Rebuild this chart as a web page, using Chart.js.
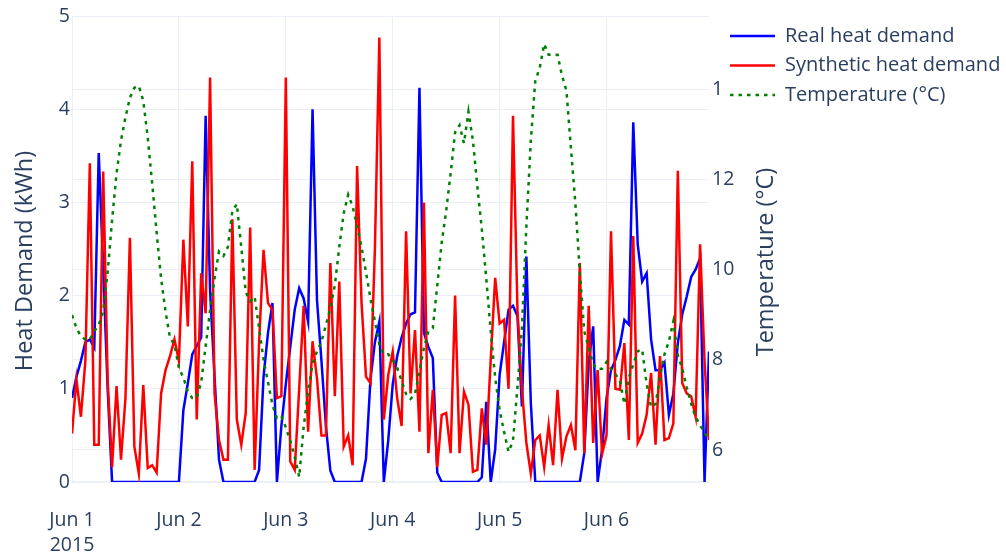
<!DOCTYPE html>
<html>
<head>
<meta charset="utf-8">
<script src="https://cdn.jsdelivr.net/npm/chart.js@4.4.1/dist/chart.umd.min.js"></script>
<style>
  html, body { margin: 0; padding: 0; background: #fff; }
</style>
</head>
<body>
<canvas id="heatChart" width="1006" height="555"></canvas>
<script>
const dayLabels = ['Jun 1', 'Jun 2', 'Jun 3', 'Jun 4', 'Jun 5', 'Jun 6'];
const yearLabel = '2015';
const demandTicks = [0, 1, 2, 3, 4, 5];
const tempTicks = [6, 8, 10, 12, 14];

// hourly values, Jun 1 00:00 -> Jun 6 23:00
const realDemand = [
  0.9, 1.13, 1.3, 1.5, 1.53, 1.44, 3.53, 2.3, 1.0, 0, 0, 0,
  0, 0, 0, 0, 0, 0, 0, 0, 0, 0, 0, 0,
  0, 0.77, 1.06, 1.37, 1.46, 1.55, 3.93, 2.05, 1.13, 0.24, 0, 0,
  0, 0, 0, 0, 0, 0, 0.13, 1.13, 1.6, 1.92, 0, 0.6,
  1.05, 1.45, 1.85, 2.08, 1.97, 1.72, 4.0, 1.95, 1.3, 0.6, 0.12, 0,
  0, 0, 0, 0, 0, 0, 0.25, 1.1, 1.5, 1.72, 0, 0.45,
  1.05, 1.35, 1.55, 1.7, 1.8, 1.82, 4.23, 1.6, 1.45, 1.33, 0.1, 0,
  0, 0, 0, 0, 0, 0, 0, 0, 0.05, 0.86, 0, 0.35,
  1.15, 1.5, 1.85, 1.89, 1.78, 0.81, 2.42, 0.85, 0, 0, 0, 0,
  0, 0, 0, 0, 0, 0, 0, 0.31, 1.28, 1.67, 0, 0.35,
  0.9, 1.2, 1.31, 1.46, 1.74, 1.69, 3.86, 2.55, 2.15, 2.24, 1.53, 1.2,
  1.2, 1.28, 0.72, 0.95, 1.49, 1.8, 1.99, 2.2, 2.28, 2.4, 0, 1.4
];
const syntheticDemand = [
  0.52, 1.1, 0.7, 1.3, 3.42, 0.4, 0.4, 3.33, 1.1, 0.16, 1.03, 0.24,
  0.9, 2.62, 0.38, 0.09, 1.04, 0.15, 0.18, 0.1, 0.95, 1.2, 1.35, 1.53,
  1.3, 2.6, 1.67, 3.44, 0.67, 2.24, 1.81, 4.34, 0.95, 0.45, 0.24, 0.24,
  2.82, 0.67, 0.4, 0.74, 2.73, 0.13, 1.5, 2.49, 1.92, 1.85, 0.9, 0.92,
  4.34, 0.22, 0.13, 1.0, 1.89, 0.54, 1.51, 1.11, 0.5, 0.5, 2.35, 0.92,
  2.15, 0.38, 0.5, 0.18, 3.39, 1.92, 1.13, 1.06, 2.5, 4.77, 0.67, 1.15,
  1.4, 0.9, 0.6, 2.69, 0.95, 1.63, 0.54, 3.0, 0.31, 0.99, 0.16, 0.72,
  0.74, 0.31, 2.0, 0.31, 0.97, 0.83, 0.11, 0.13, 0.79, 0.4, 1.31, 2.19,
  1.7, 1.74, 1.0, 3.93, 1.85, 1.0, 0.42, 0.09, 0.45, 0.5, 0.16, 0.61,
  0.18, 0.99, 0.25, 0.49, 0.61, 0.34, 2.35, 0.31, 1.89, 0.42, 1.2, 0.3,
  0.5, 2.69, 1.0, 0.99, 1.49, 0.45, 2.64, 0.42, 0.52, 0.72, 1.17, 0.4,
  1.35, 0.45, 0.47, 0.63, 3.34, 1.06, 0.95, 0.92, 0.7, 2.55, 1.3, 0.45
];
const temperature = [
  8.99, 8.7, 8.52, 8.45, 8.45, 8.63, 8.77, 9.07, 9.94, 11.1, 12.13, 12.86,
  13.37, 13.81, 14.03, 14.07, 13.74, 12.93, 11.91, 10.82, 9.8, 9.07, 8.48, 8.34,
  7.82, 7.6, 7.3, 7.15, 7.15, 7.5, 8.3, 9.1, 9.8, 10.4, 10.3, 10.5,
  11.3, 11.45, 10.5, 9.5, 9.3, 9.4, 8.7, 8.0, 7.5, 7.0, 6.7, 6.75,
  6.5, 6.2, 5.85, 5.4, 6.5, 7.3, 7.9, 8.19, 8.4, 8.77, 9.14, 9.65,
  10.5, 11.25, 11.66, 11.4, 10.96, 10.5, 9.94, 9.36, 8.85, 8.34, 8.12, 8.12,
  8.0, 7.82, 7.53, 7.24, 7.13, 7.24, 7.75, 8.26, 8.63, 8.7, 9.65, 10.6,
  11.3, 12.13, 13.04, 13.2, 12.8, 13.5, 12.86, 11.84, 10.9, 9.8, 8.63, 7.6,
  6.88, 6.4, 5.96, 6.2, 7.39, 8.7, 10.96, 12.86, 14.18, 14.47, 15.0, 14.76,
  14.76, 14.76, 14.3, 13.96, 12.7, 11.47, 9.94, 8.63, 8.26, 7.9, 7.79, 7.8,
  7.95, 7.8, 7.68, 7.53, 7.02, 7.6, 7.9, 8.19, 8.23, 7.46, 6.95, 7.02,
  7.6, 8.12, 8.41, 8.85, 8.1, 7.8, 7.39, 7.02, 6.73, 6.55, 6.38, 6.22
];

const hours = realDemand.map((_, i) => i);
const textColor = '#2a3f5f';
const gridColor = '#ebf0f8';
const fontFamily = '"Open Sans", verdana, arial, sans-serif';

Chart.defaults.font.family = fontFamily;
Chart.defaults.color = textColor;

// axis titles read bottom-to-top on both sides, legend sits over the right axis
const titlesAndLegend = {
  id: 'titlesAndLegend',
  afterDraw(chart) {
    const ctx = chart.ctx;
    ctx.save();
    ctx.fillStyle = textColor;
    ctx.font = '23.5px ' + fontFamily;
    ctx.textAlign = 'center';
    ctx.textBaseline = 'middle';
    [[25, 261, 'Heat Demand (kWh)'], [766, 262, 'Temperature (°C)']].forEach(([x, y, t]) => {
      ctx.save();
      ctx.translate(x, y);
      ctx.rotate(-Math.PI / 2);
      ctx.fillText(t, 0, 0);
      ctx.restore();
    });

    ctx.fillStyle = '#fff';
    ctx.fillRect(721, 18, 285, 94);
    chart.data.datasets.forEach((ds, i) => {
      const y = 36 + i * 29.5;
      ctx.beginPath();
      ctx.strokeStyle = ds.borderColor;
      ctx.lineWidth = ds.borderWidth;
      ctx.setLineDash(ds.borderDash || []);
      ctx.moveTo(730, y);
      ctx.lineTo(775, y);
      ctx.stroke();
      ctx.setLineDash([]);
      ctx.fillStyle = textColor;
      ctx.font = '20px ' + fontFamily;
      ctx.textAlign = 'left';
      ctx.fillText(ds.label, 785, y);
    });
    ctx.restore();
  }
};

new Chart(document.getElementById('heatChart'), {
  type: 'line',
  data: {
    labels: hours,
    datasets: [
      {
        label: 'Real heat demand',
        data: realDemand,
        borderColor: 'blue',
        borderWidth: 2.5,
        yAxisID: 'y',
        order: 2
      },
      {
        label: 'Synthetic heat demand',
        data: syntheticDemand,
        borderColor: 'red',
        borderWidth: 2.5,
        yAxisID: 'y',
        order: 1
      },
      {
        label: 'Temperature (°C)',
        data: temperature,
        borderColor: 'green',
        borderWidth: 2.5,
        borderDash: [3.5, 5],
        yAxisID: 'y2',
        order: 0
      }
    ]
  },
  options: {
    responsive: false,
    animation: false,
    devicePixelRatio: 1,
    elements: {
      point: { radius: 0 },
      line: { tension: 0, fill: false }
    },
    layout: { padding: { top: 16, left: 0, right: 0, bottom: 0 } },
    plugins: {
      legend: { display: false },
      tooltip: { enabled: false }
    },
    scales: {
      x: {
        type: 'linear',
        min: 0,
        max: hours.length - 1,
        afterBuildTicks: (scale) => {
          scale.ticks = dayLabels.map((_, i) => ({ value: i * 24 }));
        },
        afterFit: (scale) => { scale.height = 73; },
        ticks: {
          autoSkip: false,
          maxRotation: 0,
          padding: 25.5,
          font: { size: 19.5, lineHeight: 1.282 },
          callback: (v) => v === 0 ? [dayLabels[0], yearLabel] : dayLabels[v / 24]
        },
        grid: { color: gridColor, drawTicks: false },
        border: { display: false }
      },
      y: {
        position: 'left',
        min: 0,
        max: 5,
        afterBuildTicks: (scale) => {
          scale.ticks = demandTicks.map(v => ({ value: v }));
        },
        afterFit: (scale) => { scale.width = 72; },
        ticks: { padding: 2, font: { size: 19.5 } },
        grid: {
          color: gridColor,
          drawTicks: false,
          lineWidth: (c) => c.tick && c.tick.value === 0 ? 2 : 1
        },
        border: { display: false }
      },
      y2: {
        position: 'right',
        min: 5.29,
        max: 15.62,
        afterBuildTicks: (scale) => {
          scale.ticks = tempTicks.map(v => ({ value: v }));
        },
        afterFit: (scale) => { scale.width = 297; },
        ticks: { padding: 3, font: { size: 19.5 } },
        grid: { color: gridColor, drawTicks: false },
        border: { display: false }
      }
    }
  },
  plugins: [titlesAndLegend]
});
</script>
</body>
</html>
